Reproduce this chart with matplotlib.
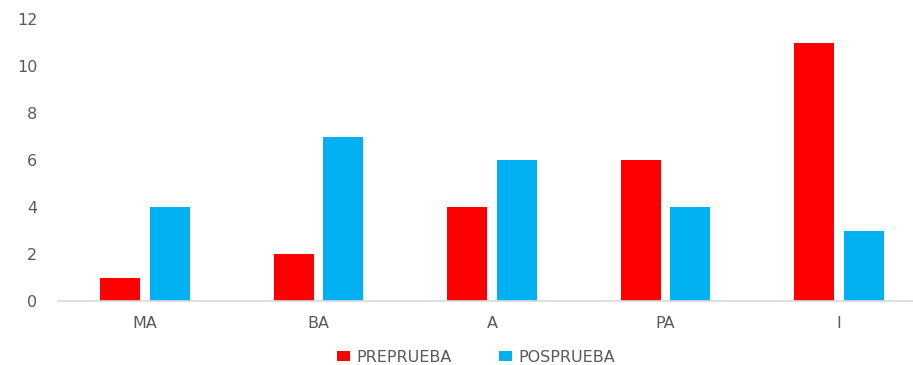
import matplotlib
matplotlib.use("Agg")
import matplotlib.pyplot as plt
import numpy as np

categories = ["MA", "BA", "A", "PA", "I"]
preprueba = [1, 2, 4, 6, 11]
posprueba = [4, 7, 6, 4, 3]
yticks = [0, 2, 4, 6, 8, 10, 12]

plt.rcParams['font.family'] = ['DejaVu Sans']
W, H = 913, 365
fig = plt.figure(figsize=(W / 100, H / 100), dpi=100)
left, right = 58 / W, 926 / W
bottom, top = 1 - 301 / H, 1 - 19 / H
ax = fig.add_axes([left, bottom, right - left, top - bottom])

x = np.arange(len(categories))
bw = 0.23
off = 0.143
ax.bar(x - off, preprueba, bw, color="#FF0000", label="PREPRUEBA")
ax.bar(x + off, posprueba, bw, color="#00B0F0", label="POSPRUEBA")

ax.set_xlim(-0.5, len(categories) - 0.5)
ax.set_ylim(0, 12)
ax.set_yticks(yticks)
ax.set_xticks(x)
ax.set_xticklabels(categories)
ax.tick_params(axis="both", length=0, colors="#595959", labelsize=11.5)
ax.tick_params(axis="y", pad=15)
ax.tick_params(axis="x", pad=11)
for s in ["top", "right", "left"]:
    ax.spines[s].set_visible(False)
ax.spines["bottom"].set_color("#D9D9D9")
ax.spines["bottom"].set_linewidth(1.2)

leg = fig.legend(loc="center", bbox_to_anchor=(476 / W, 1 - 357 / H), ncol=2,
                 frameon=False, fontsize=11.5, handlelength=0.8, handleheight=0.55,
                 columnspacing=3.0, handletextpad=0.4)
for t in leg.get_texts():
    t.set_color("#595959")

fig.savefig("out.png", dpi=100)
